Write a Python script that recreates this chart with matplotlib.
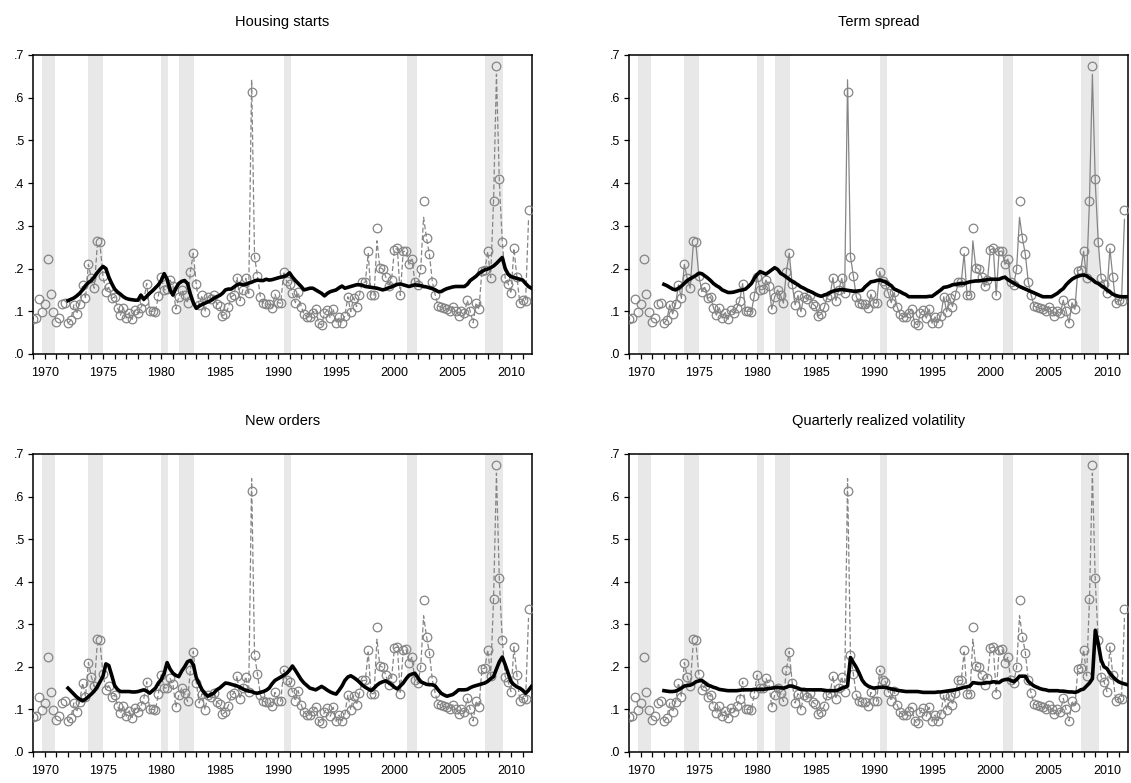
import matplotlib
matplotlib.use('Agg')
import matplotlib.pyplot as plt
from matplotlib.ticker import FixedLocator, FuncFormatter
import numpy as np

plt.rcParams['font.family'] = ['Liberation Sans', 'DejaVu Sans']

#-------------------------------
# data: quarterly realized volatility, 1969q1 - 2011q3

rv = [.083, .085, .128, .099,
      .116, .222, .140, .099,
      .075, .085, .116, .119,
      .072, .080, .115, .094,
      .117, .162, .130, .210,
      .177, .154, .265, .262,
      .183, .146, .156, .130,
      .134, .108, .091, .108,
      .084, .097, .081, .103,
      .095, .108, .125, .165,
      .100, .100, .099, .136,
      .181, .150, .151, .173,
      .160, .105, .134, .150,
      .138, .119, .193, .236,
      .163, .115, .137, .099,
      .134, .128, .138, .118,
      .112, .089, .094, .109,
      .134, .138, .179, .125,
      .150, .177, .142, .614,
      .228, .183, .134, .119,
      .117, .117, .107, .140,
      .120, .119, .193, .170,
      .165, .142, .120, .144,
      .111, .093, .087, .087,
      .097, .105, .072, .068,
      .095, .103, .084, .105,
      .072, .087, .073, .089,
      .134, .099, .132, .111,
      .138, .168, .168, .240,
      .137, .137, .294, .202,
      .199, .181, .158, .173,
      .244, .247, .137, .240,
      .241, .210, .222, .169,
      .162, .199, .357, .271,
      .233, .169, .138, .112,
      .110, .107, .105, .101,
      .111, .100, .089, .100,
      .095, .126, .100, .073,
      .120, .105, .195, .197,
      .240, .179, .359, .674,
      .409, .263, .177, .165,
      .142, .247, .181, .120,
      .126, .125, .336]

# fitted volatility (gray line), 1972q1 - 2011q3
fitted = [.072, .080, .115, .094,
          .117, .162, .130, .210,
          .177, .154, .250, .255,
          .183, .146, .156, .130,
          .134, .108, .091, .108,
          .084, .097, .081, .103,
          .095, .108, .125, .165,
          .100, .100, .099, .136,
          .181, .150, .151, .173,
          .160, .105, .134, .150,
          .138, .119, .193, .236,
          .163, .115, .137, .099,
          .134, .128, .138, .118,
          .112, .089, .094, .109,
          .134, .138, .179, .125,
          .150, .177, .142, .642,
          .228, .183, .134, .119,
          .117, .117, .107, .140,
          .120, .119, .193, .170,
          .165, .142, .120, .144,
          .111, .093, .087, .087,
          .097, .105, .072, .068,
          .095, .103, .084, .105,
          .072, .087, .073, .089,
          .134, .099, .132, .111,
          .138, .168, .168, .235,
          .137, .137, .265, .202,
          .199, .181, .158, .173,
          .244, .247, .137, .240,
          .241, .210, .222, .169,
          .162, .199, .320, .271,
          .233, .169, .138, .112,
          .110, .107, .105, .101,
          .111, .100, .089, .100,
          .095, .126, .100, .073,
          .120, .105, .195, .197,
          .240, .179, .359, .655,
          .400, .263, .177, .165,
          .142, .247, .181, .120,
          .126, .125, .315]

# long-run components (black line), 1972q1 - 2011q4
housing_lr = [.125, .128, .131, .136, .142, .150, .160, .167,
              .172, .180, .190, .198, .205, .200, .180, .165,
              .152, .145, .140, .134, .130, .128, .127, .126,
              .126, .138, .128, .135, .142, .148, .155, .162,
              .172, .188, .175, .150, .138, .154, .165, .170,
              .172, .165, .140, .120, .107, .112, .116, .119,
              .122, .125, .130, .134, .137, .142, .150, .152,
              .152, .157, .162, .164, .162, .163, .166, .168,
              .171, .173, .172, .172, .175, .173, .174, .176,
              .178, .180, .181, .184, .190, .180, .172, .165,
              .158, .150, .152, .154, .154, .150, .146, .142,
              .136, .142, .146, .148, .150, .155, .159, .154,
              .156, .158, .160, .162, .162, .161, .158, .157,
              .156, .155, .154, .152, .150, .152, .155, .157,
              .160, .163, .164, .162, .160, .158, .160, .162,
              .161, .160, .158, .157, .155, .153, .150, .146,
              .146, .150, .153, .155, .157, .158, .158, .158,
              .158, .163, .172, .177, .182, .189, .193, .197,
              .199, .202, .206, .212, .219, .226, .200, .187,
              .181, .179, .177, .175, .173, .165, .158, .154]

spread_lr = [.163, .160, .156, .152, .150, .154, .159, .165,
             .172, .176, .180, .184, .189, .188, .183, .178,
             .172, .165, .160, .156, .150, .147, .144, .144,
             .145, .147, .149, .150, .152, .158, .165, .177,
             .186, .193, .190, .187, .192, .197, .202, .198,
             .189, .185, .180, .175, .170, .166, .162, .157,
             .154, .150, .147, .144, .140, .137, .135, .138,
             .140, .144, .147, .149, .150, .151, .150, .149,
             .148, .147, .147, .148, .149, .157, .163, .169,
             .170, .172, .173, .171, .169, .164, .160, .152,
             .149, .146, .142, .139, .134, .134, .134, .134,
             .134, .134, .134, .135, .135, .140, .145, .150,
             .156, .157, .159, .162, .163, .164, .165, .165,
             .167, .169, .170, .171, .171, .172, .173, .174,
             .175, .175, .175, .175, .178, .180, .174, .170,
             .166, .162, .158, .155, .152, .149, .146, .143,
             .140, .137, .134, .134, .134, .134, .138, .142,
             .148, .153, .162, .169, .175, .179, .182, .184,
             .185, .183, .178, .174, .168, .165, .160, .156,
             .150, .145, .140, .137, .135, .134, .134, .134]

orders_lr = [.150, .143, .136, .129, .124, .120, .124, .130,
             .136, .143, .153, .165, .178, .207, .203, .180,
             .156, .147, .142, .142, .142, .142, .141, .141,
             .142, .144, .146, .143, .138, .144, .150, .162,
             .170, .185, .210, .195, .185, .180, .177, .190,
             .200, .212, .215, .205, .175, .160, .146, .137,
             .131, .135, .138, .146, .150, .156, .162, .161,
             .159, .157, .155, .152, .148, .145, .143, .142,
             .139, .138, .140, .142, .145, .150, .160, .168,
             .172, .176, .180, .185, .192, .202, .192, .181,
             .170, .162, .156, .150, .148, .146, .150, .154,
             .150, .145, .141, .138, .136, .145, .155, .168,
             .176, .179, .175, .170, .164, .157, .152, .148,
             .144, .150, .157, .162, .165, .167, .163, .158,
             .152, .148, .155, .162, .172, .180, .183, .185,
             .175, .165, .162, .159, .158, .158, .155, .146,
             .138, .134, .131, .133, .135, .140, .146, .146,
             .146, .147, .151, .154, .156, .158, .160, .162,
             .166, .172, .177, .195, .212, .223, .205, .185,
             .165, .158, .153, .150, .145, .138, .145, .154]

qrv_lr = [.144, .143, .142, .142, .143, .146, .150, .155,
          .156, .157, .160, .165, .167, .168, .163, .157,
          .155, .152, .150, .147, .146, .145, .144, .144,
          .144, .144, .145, .146, .146, .146, .146, .147,
          .147, .147, .147, .148, .149, .150, .151, .152,
          .151, .150, .152, .155, .155, .152, .150, .147,
          .147, .146, .146, .146, .146, .146, .146, .145,
          .144, .144, .144, .144, .146, .150, .152, .155,
          .222, .210, .199, .185, .169, .160, .155, .152,
          .150, .151, .152, .152, .152, .150, .148, .147,
          .145, .144, .143, .142, .142, .142, .142, .142,
          .141, .140, .140, .140, .140, .140, .141, .141,
          .142, .143, .144, .145, .146, .148, .150, .152,
          .153, .155, .163, .162, .161, .161, .162, .163,
          .163, .165, .164, .163, .168, .170, .171, .168,
          .165, .170, .178, .178, .178, .166, .160, .155,
          .152, .149, .147, .146, .144, .144, .144, .144,
          .143, .143, .142, .141, .141, .140, .142, .146,
          .148, .155, .162, .172, .286, .255, .216, .200,
          .196, .185, .177, .170, .165, .162, .160, .158]

# NBER recessions (start, end) in years
recessions = [(1969.8, 1970.85), (1973.75, 1975.0), (1980.0, 1980.6),
              (1981.5, 1982.85), (1990.5, 1991.15), (2001.05, 2001.9),
              (2007.8, 2009.3)]

titles = ['Housing starts', 'Term spread', 'New orders', 'Quarterly realized volatility']

gray = '#858585'


#-------------------------------
# function which draws one panel

def draw_panel(ax, title, long_run, line_style):

    rv_dates = 1969 + np.arange(len(rv)) / 4
    fit_dates = 1972 + np.arange(len(fitted)) / 4
    lr_dates = 1972 + np.arange(len(long_run)) / 4

    # shaded recessions
    for start, end in recessions:
        ax.axvspan(start, end, color='#e8e8e8', lw=0, zorder=0)

    ax.plot(fit_dates, fitted, color=gray, lw=0.9, ls=line_style, zorder=2)
    ax.plot(rv_dates, rv, ls='none', marker='o', ms=6.2, mfc='none',
            mec=gray, mew=0.9, zorder=3)
    ax.plot(lr_dates, long_run, color='black', lw=2.6, zorder=4,
            solid_joinstyle='round')

    ax.set_xlim(1969, 2011.8)
    ax.set_ylim(0, 0.7)
    ax.xaxis.set_major_locator(FixedLocator(range(1970, 2011, 5)))
    ax.xaxis.set_minor_locator(FixedLocator(range(1969, 2012)))
    ax.yaxis.set_major_locator(FixedLocator([0, .1, .2, .3, .4, .5, .6, .7]))
    ax.yaxis.set_major_formatter(FuncFormatter(lambda v, p: '.%d' % round(v * 10)))
    ax.tick_params(which='both', direction='out', length=3.5, width=0.9,
                   labelsize=9, color='black')
    ax.tick_params(axis='x', which='both', pad=6)
    ax.tick_params(axis='y', pad=2.5)
    for s in ax.spines.values():
        s.set_linewidth(1.1)
    ax.set_title(title, fontsize=10.5, pad=21)


#-------------------------------
# figure with four panels

fig = plt.figure(figsize=(11.31, 7.83), dpi=100)

positions = [[0.0292, 0.5479, 0.4412, 0.3819],
             [0.5561, 0.5479, 0.4412, 0.3819],
             [0.0292, 0.0396, 0.4412, 0.3806],
             [0.5561, 0.0396, 0.4412, 0.3806]]
long_runs = [housing_lr, spread_lr, orders_lr, qrv_lr]
styles = [(0, (4, 2)), '-', (0, (4, 2)), (0, (4, 2))]

for pos, title, lr, st in zip(positions, titles, long_runs, styles):
    ax = fig.add_axes(pos)
    draw_panel(ax, title, lr, st)

fig.savefig('out.png', dpi=100)
